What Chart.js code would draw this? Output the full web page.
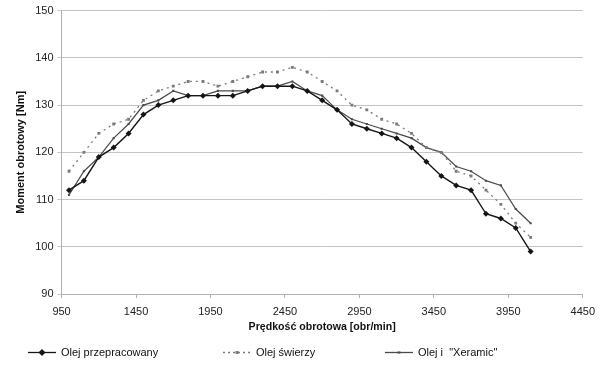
<!DOCTYPE html>
<html lang="pl">
<head>
<meta charset="UTF-8">
<title>Moment obrotowy</title>
<style>
  body { margin: 0; background: #fff; }
  #wrap { position: relative; width: 602px; height: 369px; }
  #legend { position: absolute; left: 0; top: 346px; width: 602px; height: 16px;
            font-family: 'Liberation Sans', Arial, sans-serif; font-size: 11px; color: #111; }
  .item { position: absolute; top: 0; display: flex; align-items: center; white-space: nowrap; }
  .item canvas { margin-right: 5px; }
</style>
</head>
<body>
<div id="wrap">
  <canvas id="chart"></canvas>
  <div id="legend"></div>
</div>
<script src="https://cdn.jsdelivr.net/npm/chart.js"></script>
<script>
const rpm = [1000, 1100, 1200, 1300, 1400, 1500, 1600, 1700, 1800, 1900, 2000, 2100, 2200, 2300, 2400, 2500,
             2600, 2700, 2800, 2900, 3000, 3100, 3200, 3300, 3400, 3500, 3600, 3700, 3800, 3900, 4000, 4100];
const olejPrzepracowany = [112, 114, 119, 121, 124, 128, 130, 131, 132, 132, 132, 132, 133, 134, 134, 134,
                           133, 131, 129, 126, 125, 124, 123, 121, 118, 115, 113, 112, 107, 106, 104, 99];
const olejSwiezy = [116, 120, 124, 126, 127, 131, 133, 134, 135, 135, 134, 135, 136, 137, 137, 138,
                    137, 135, 133, 130, 129, 127, 126, 124, 121, 120, 116, 115, 112, 109, 105, 102];
const olejXeramic = [111, 116, 119, 123, 126, 130, 131, 133, 132, 132, 133, 133, 133, 134, 134, 135,
                     133, 132, 129, 127, 126, 125, 124, 123, 121, 120, 117, 116, 114, 113, 108, 105];
const xTicks = [950, 1450, 1950, 2450, 2950, 3450, 3950, 4450];
const seriesNames = ['Olej przepracowany', 'Olej świerzy', 'Olej i  "Xeramic"'];

const FONT = "'Liberation Sans', Arial, sans-serif";
const colors = ['#151515', '#7a7a7a', '#4a4a4a'];

// legend icon: short line + marker
function legendIcon(color, dash, marker) {
  const c = document.createElement('canvas');
  c.width = 28; c.height = 9;
  const g = c.getContext('2d');
  g.strokeStyle = color; g.fillStyle = color; g.lineWidth = 1.3;
  g.setLineDash(dash);
  g.beginPath(); g.moveTo(0, 4.5); g.lineTo(28, 4.5); g.stroke();
  g.setLineDash([]);
  if (marker === 'diamond') {
    g.beginPath(); g.moveTo(14, 1); g.lineTo(17.5, 4.5); g.lineTo(14, 8); g.lineTo(10.5, 4.5); g.closePath(); g.fill();
  } else if (marker === 'square') {
    g.fillRect(12.5, 3, 3, 3);
  } else {
    g.fillRect(12.5, 3.5, 3, 2);
  }
  return c;
}

const legendLeft = [28, 223, 385];
const legendMarkers = [['diamond', []], ['square', [2, 3]], ['dash', []]];
const legendEl = document.getElementById('legend');
seriesNames.forEach((name, i) => {
  const item = document.createElement('div');
  item.className = 'item';
  item.style.left = legendLeft[i] + 'px';
  item.appendChild(legendIcon(colors[i], legendMarkers[i][1], legendMarkers[i][0]));
  const span = document.createElement('span');
  span.textContent = name;
  span.style.whiteSpace = 'pre';
  item.appendChild(span);
  legendEl.appendChild(item);
});

const toXY = arr => arr.map((v, i) => ({ x: rpm[i], y: v }));

new Chart(document.getElementById('chart'), {
  type: 'line',
  data: {
    datasets: [{
      label: seriesNames[0],
      data: toXY(olejPrzepracowany),
      borderColor: colors[0],
      backgroundColor: colors[0],
      borderWidth: 1.4,
      pointStyle: 'rectRot',
      pointRadius: 3,
      pointBorderWidth: 0
    }, {
      label: seriesNames[1],
      data: toXY(olejSwiezy),
      borderColor: colors[1],
      backgroundColor: colors[1],
      borderWidth: 1.3,
      borderDash: [2, 4],
      pointStyle: 'rect',
      pointRadius: 2,
      pointBorderWidth: 0
    }, {
      label: seriesNames[2],
      data: toXY(olejXeramic),
      borderColor: colors[2],
      backgroundColor: colors[2],
      borderWidth: 1.2,
      pointStyle: 'rect',
      pointRadius: 1.5,
      pointBorderWidth: 0
    }]
  },
  options: {
    responsive: true,
    maintainAspectRatio: false,
    animation: false,
    layout: { padding: { top: 4, right: 19, left: 10, bottom: 34 } },
    scales: {
      x: {
        type: 'linear',
        min: 950,
        max: 4450,
        afterBuildTicks: scale => { scale.ticks = xTicks.map(v => ({ value: v })); },
        grid: { display: true, drawOnChartArea: false, color: '#b0b0b0', tickLength: 4 },
        border: { color: '#b0b0b0' },
        ticks: {
          color: '#222', font: { family: FONT, size: 11 }, maxRotation: 0, padding: 7,
          callback: v => String(v)
        },
        title: {
          display: true,
          text: 'Prędkość obrotowa [obr/min]',
          color: '#111',
          font: { family: FONT, size: 10.6, weight: 'bold' },
          padding: { top: -5, bottom: 2 }
        }
      },
      y: {
        min: 90,
        max: 150,
        ticks: { stepSize: 10, color: '#222', font: { family: FONT, size: 11 }, padding: 4 },
        grid: { color: '#c4c4c4', tickLength: 4, lineWidth: 1 },
        border: { color: '#b0b0b0' },
        title: {
          display: true,
          text: 'Moment obrotowy [Nm]',
          color: '#111',
          font: { family: FONT, size: 11, weight: 'bold' },
          padding: { top: 4, bottom: 4 }
        }
      }
    },
    plugins: {
      legend: { display: false },
      tooltip: { enabled: false }
    }
  }
});
</script>
</body>
</html>
